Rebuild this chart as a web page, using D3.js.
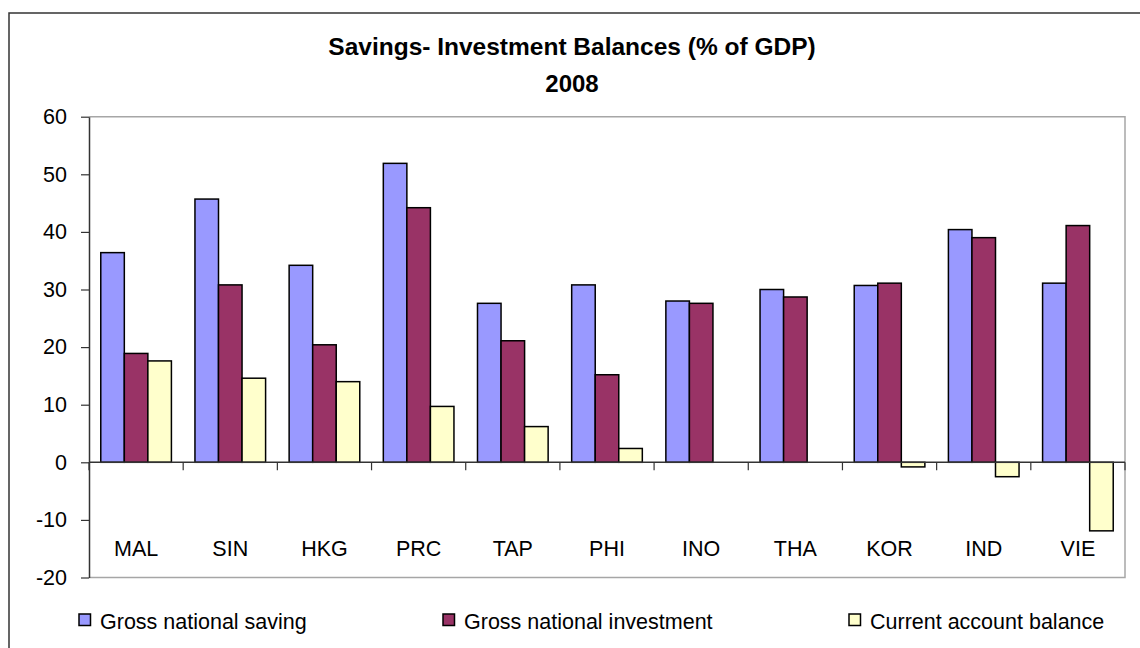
<!DOCTYPE html>
<html>
<head>
<meta charset="utf-8">
<script src="https://cdn.jsdelivr.net/npm/d3@7"></script>
<style>
	body { margin: 0; background: #fff; }
	svg { display: block; font-family: "Liberation Sans", Arial, sans-serif; }
</style>
</head>
<body>
<div id="chart"></div>
<script>

// data
var categories = ["MAL", "SIN", "HKG", "PRC", "TAP", "PHI", "INO", "THA", "KOR", "IND", "VIE"];
var seriesNames = ["Gross national saving", "Gross national investment", "Current account balance"];
var saving     = [36.4, 45.7, 34.2, 51.9, 27.6, 30.8, 28.0, 30.0, 30.7, 40.4, 31.1];
var investment = [18.9, 30.8, 20.4, 44.2, 21.1, 15.2, 27.6, 28.7, 31.1, 39.0, 41.1];
var currentAcc = [17.6, 14.6, 14.0, 9.7, 6.2, 2.4, null, null, -0.8, -2.5, -11.9];
var yTicks = [-20, -10, 0, 10, 20, 30, 40, 50, 60];
var colors = ["#9999ff", "#993366", "#ffffcc"];

var width = 1140, height = 648;
var plotLeft = 89, plotRight = 1125, plotTop = 116.7, plotBottom = 577.5;

var svg = d3.select("#chart").append("svg")
		.attr("width", width)
		.attr("height", height);

// outer chart border
svg.append("rect")
	.attr("x", 9).attr("y", 13)
	.attr("width", 1160).attr("height", 700)
	.attr("fill", "none")
	.attr("stroke", "#333")
	.attr("stroke-width", 1.5);

// title
svg.append("text")
	.attr("x", 572).attr("y", 55)
	.attr("text-anchor", "middle")
	.attr("font-size", 24.5).attr("font-weight", "bold")
	.text("Savings- Investment Balances (% of GDP)");
svg.append("text")
	.attr("x", 572).attr("y", 91.5)
	.attr("text-anchor", "middle")
	.attr("font-size", 24).attr("font-weight", "bold")
	.text("2008");

var x0 = d3.scaleBand().domain(categories).range([plotLeft, plotRight]).padding(0);
var x1 = d3.scaleBand().domain(seriesNames).range([0, x0.bandwidth()]).paddingInner(0).paddingOuter(0.5);
var y = d3.scaleLinear().domain([-20, 60]).range([plotBottom, plotTop]);

// plot area border (grey) on top, right and bottom
svg.append("path")
	.attr("d", "M" + plotLeft + "," + plotTop + "H" + plotRight + "V" + plotBottom + "H" + plotLeft)
	.attr("fill", "none")
	.attr("stroke", "#a6a6a6")
	.attr("stroke-width", 1.5);

var table = categories.map(function(c, i) {
	return { cat: c, values: [saving[i], investment[i], currentAcc[i]] };
});

var groups = svg.selectAll(".cat")
	.data(table)
	.enter().append("g")
	.attr("class", "cat")
	.attr("transform", function(d) { return "translate(" + x0(d.cat) + ",0)"; });

groups.selectAll("rect")
	.data(function(d) {
		return d.values.map(function(v, j) { return { name: seriesNames[j], value: v, idx: j }; })
			.filter(function(e) { return e.value !== null; });
	})
	.enter().append("rect")
	.attr("x", function(d) { return x1(d.name); })
	.attr("width", x1.bandwidth())
	.attr("y", function(d) { return y(Math.max(0, d.value)); })
	.attr("height", function(d) { return Math.abs(y(d.value) - y(0)); })
	.attr("fill", function(d) { return colors[d.idx]; })
	.attr("stroke", "#000")
	.attr("stroke-width", 1.5);

// y axis
var yAxis = svg.append("g")
	.attr("transform", "translate(" + plotLeft + ",0)")
	.call(d3.axisLeft(y).tickValues(yTicks).tickSize(8).tickPadding(14).tickSizeOuter(0)
		.tickFormat(function(d) { return String(d); }));
yAxis.select(".domain").attr("stroke", "#333").attr("stroke-width", 1.5);
yAxis.selectAll(".tick line").attr("stroke", "#333").attr("stroke-width", 1.2);
yAxis.selectAll(".tick text").attr("font-size", 21.5).attr("fill", "#000")
	.attr("font-family", "Liberation Sans, Arial, sans-serif");

// category axis at zero
var bounds = categories.map(function(c) { return x0(c); }).concat([plotRight]);
svg.append("line")
	.attr("x1", plotLeft).attr("x2", plotRight)
	.attr("y1", y(0)).attr("y2", y(0))
	.attr("stroke", "#333").attr("stroke-width", 1.5);
svg.selectAll(".xtick")
	.data(bounds)
	.enter().append("line")
	.attr("class", "xtick")
	.attr("x1", function(d) { return d; }).attr("x2", function(d) { return d; })
	.attr("y1", y(0)).attr("y2", y(0) + 8)
	.attr("stroke", "#333").attr("stroke-width", 1.2);

svg.selectAll(".xlabel")
	.data(categories)
	.enter().append("text")
	.attr("class", "xlabel")
	.attr("x", function(d) { return x0(d) + x0.bandwidth() / 2; })
	.attr("y", 556)
	.attr("text-anchor", "middle")
	.attr("font-size", 21.5)
	.text(function(d) { return d; });

// legend
var legendX = [79, 443, 849];
var legend = svg.selectAll(".legend")
	.data(seriesNames)
	.enter().append("g")
	.attr("class", "legend")
	.attr("transform", function(d, i) { return "translate(" + legendX[i] + ",614)"; });
legend.append("rect")
	.attr("width", 11.5).attr("height", 11.5)
	.attr("fill", function(d, i) { return colors[i]; })
	.attr("stroke", "#000").attr("stroke-width", 1.5);
legend.append("text")
	.attr("x", 21).attr("y", 14.5)
	.attr("font-size", 21.5)
	.text(function(d) { return d; });

</script>
</body>
</html>
